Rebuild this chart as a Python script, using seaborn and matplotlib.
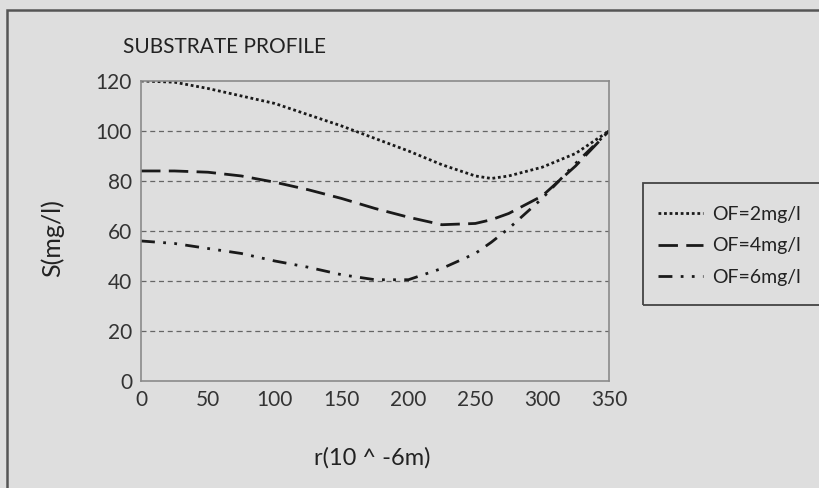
import pandas as pd
import seaborn as sns
import matplotlib.pyplot as plt
from matplotlib.patches import Rectangle

# values
r = [0, 25, 50, 75, 100, 125, 150, 175, 200, 225, 250, 262, 275, 300, 325, 350]
s_of2 = [120, 119.5, 117, 114, 111, 106.5, 102, 97, 92, 86.5, 82, 81, 82, 85.5, 91, 100]
s_of4 = [84, 84, 83.5, 82, 79.5, 76.5, 73, 69, 65.5, 62.5, 63, 64.5, 67, 74, 86, 100]
s_of6 = [56, 55, 53, 51, 48, 45.5, 42.5, 40.5, 40.5, 45, 51, 55.5, 61, 73, 87, 100]
labels = ['OF=2mg/l', 'OF=4mg/l', 'OF=6mg/l']

df = pd.concat([
    pd.DataFrame({'r': r, 'S': s, 'OF': lab})
    for s, lab in zip([s_of2, s_of4, s_of6], labels)
])

bg = '#dedede'
sns.set_style('white')
plt.rcParams['font.family'] = ['Lato', 'DejaVu Sans']

fig = plt.figure(figsize=(8.19, 4.88), dpi=100, facecolor=bg)
ax = fig.add_axes([0.1722, 0.2193, 0.5714, 0.6148])
ax.set_facecolor(bg)

sns.lineplot(data=df, x='r', y='S', hue='OF', style='OF',
             palette=['#1a1a1a'] * 3,
             dashes=[(1, 1), (7, 3), (5, 3, 1, 3, 1, 3)],
             linewidth=2, legend=True, ax=ax)

ax.set_xlim(0, 350)
ax.set_ylim(0, 120)
ax.set_xticks(range(0, 351, 50))
ax.set_yticks(range(0, 121, 20))
for yv in range(20, 101, 20):
    ax.axhline(yv, color='#666666', lw=0.9, ls=(0, (4, 3)), zorder=0)

for sp in ax.spines.values():
    sp.set_color('#8a8a8a')
    sp.set_linewidth(1.2)
ax.tick_params(direction='inout', length=7, width=1, color='#777777',
               labelsize=15, labelcolor='#333333', pad=3)

ax.set_xlabel('')
ax.set_ylabel('')
fig.text(372 / 819, 1 - 458 / 488, 'r(10 ^ -6m)', ha='center', va='center',
         fontsize=17, color='#222222')
fig.text(52 / 819, 1 - 238 / 488, 'S(mg/l)', ha='center', va='center',
         rotation=90, fontsize=18, color='#222222')
fig.text(224 / 819, 1 - 47 / 488, 'SUBSTRATE PROFILE', ha='center', va='center',
         fontsize=15, color='#222222')

# legend with a box that runs off the right edge
handles, labs = ax.get_legend_handles_labels()
ax.get_legend().remove()
fig.legend(handles, labs, loc='upper left',
           bbox_to_anchor=(650 / 819, 1 - 198 / 488),
           frameon=False, fontsize=14, handlelength=2.3, borderaxespad=0,
           handletextpad=0.5, labelspacing=0.75, labelcolor='#222222')
fig.patches.append(Rectangle((643 / 819, 1 - 305 / 488), 0.3, 122 / 488,
                             transform=fig.transFigure, fill=False,
                             edgecolor='#444444', lw=1.3))

# outer frame around the figure
fig.patches.append(Rectangle((7 / 819, -0.1), 1.2, 1 - 10 / 488 + 0.1,
                             transform=fig.transFigure, fill=False,
                             edgecolor='#555555', lw=1.8))

fig.savefig('out.png', dpi=100, facecolor=bg)
